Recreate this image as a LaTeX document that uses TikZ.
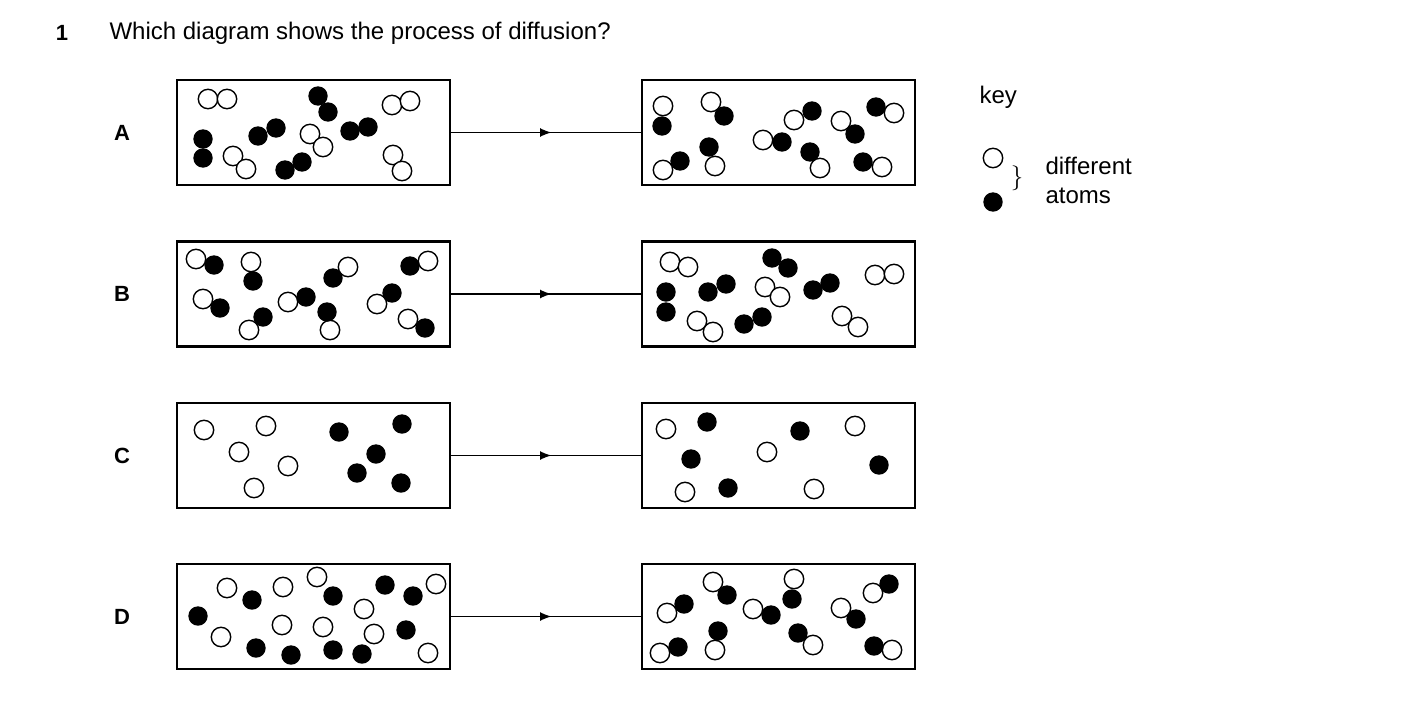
\documentclass[tikz,border=0pt]{standalone}
\usepackage{fontspec}
\setmainfont{Liberation Sans}
\usetikzlibrary{decorations.markings}
\tikzset{>=latex}
\tikzset{
  box/.style = {draw,line width=2.4pt,minimum width=273pt,minimum height=105pt,inner sep=0pt},
  open/.style = {draw,fill=white,line width=1.4pt},
  full/.style = {fill=black},
  link/.style = {line width=1.5pt,
        decoration={markings, mark=at position 0.53 with {\arrow[scale=1.6]{>}}},
        postaction={decorate}},
  lbl/.style = {font=\fontsize{22}{24}\selectfont\bfseries}
}
\newcommand{\atomr}{9.7}

\begin{document}
\begin{tikzpicture}[x=1pt,y=-1pt]
  \useasboundingbox (0,0) rectangle (1403,720);
  \node[lbl] (num) at (62,33) {1};
  \node[anchor=west,font=\fontsize{24}{26}\selectfont] (quest) at (106,33) {Which diagram shows the process of diffusion?};

  % boxes and arrows
  \foreach \n/\y in {A/132.5,B/294,C/455.5,D/616.5}{
    \node[lbl] (lab\n) at (122,\y) {\n};
    \node[box] (\n1) at (313.5,\y) {};
    \node[box] (\n2) at (778.5,\y) {};
    \draw[link] (\n1.east) -- (\n2.west);
  }

  % A
  \foreach \x/\y in {208/99,227/99,392/105,410/101,310/134,323/147,233/156,246/169,393/155,402/171,
                     663/106,711/102,794/120,763/140,841/121,894/113,663/170,715/166,820/168,882/167}
    \draw[open] (\x,\y) circle (\atomr);
  \foreach \x/\y in {203/139,203/158,318/96,328/112,258/136,276/128,350/131,368/127,285/170,302/162,
                     662/126,724/116,812/111,782/142,855/134,876/107,680/161,709/147,810/152,863/162}
    \fill[full] (\x,\y) circle (\atomr);

  % B
  \foreach \x/\y in {196/259,251/262,348/267,428/261,203/299,288/302,377/304,249/330,330/330,408/319,
                     670/262,688/267,765/287,780/297,875/275,894/274,697/321,713/332,842/316,858/327}
    \draw[open] (\x,\y) circle (\atomr);
  \foreach \x/\y in {214/265,253/281,333/278,410/266,220/308,306/297,327/312,392/293,263/317,425/328,
                     666/292,666/312,708/292,726/284,772/258,788/268,813/290,830/283,744/324,762/317}
    \fill[full] (\x,\y) circle (\atomr);

  % C
  \foreach \x/\y in {204/430,266/426,239/452,288/466,254/488,666/429,767/452,855/426,685/492,814/489}
    \draw[open] (\x,\y) circle (\atomr);
  \foreach \x/\y in {339/432,402/424,376/454,357/473,401/483,707/422,800/431,691/459,728/488,879/465}
    \fill[full] (\x,\y) circle (\atomr);

  % D
  \foreach \x/\y in {227/588,283/587,317/577,436/584,364/609,221/637,282/625,323/627,374/634,428/653,
                     713/582,794/579,667/613,753/609,841/608,873/593,660/653,715/650,813/645,892/650}
    \draw[open] (\x,\y) circle (\atomr);
  \foreach \x/\y in {198/616,252/600,333/596,385/585,413/596,406/630,256/648,291/655,333/650,362/654,
                     727/595,684/604,771/615,792/599,856/619,889/584,678/647,718/631,798/633,874/646}
    \fill[full] (\x,\y) circle (\atomr);

  % key
  \node[anchor=west,font=\fontsize{24}{26}\selectfont] (key) at (976,97) {key};
  \draw[open] (993,158) circle (\atomr);
  \fill[full] (993,202) circle (\atomr);
  \node[font=\fontsize{80}{80}\selectfont,inner sep=0pt] (brace) at (1017,178) {$\}$};
  \node[anchor=west,align=left,font=\fontsize{24}{29}\selectfont] (what) at (1042,180) {different\\atoms};
\end{tikzpicture}
\end{document}
